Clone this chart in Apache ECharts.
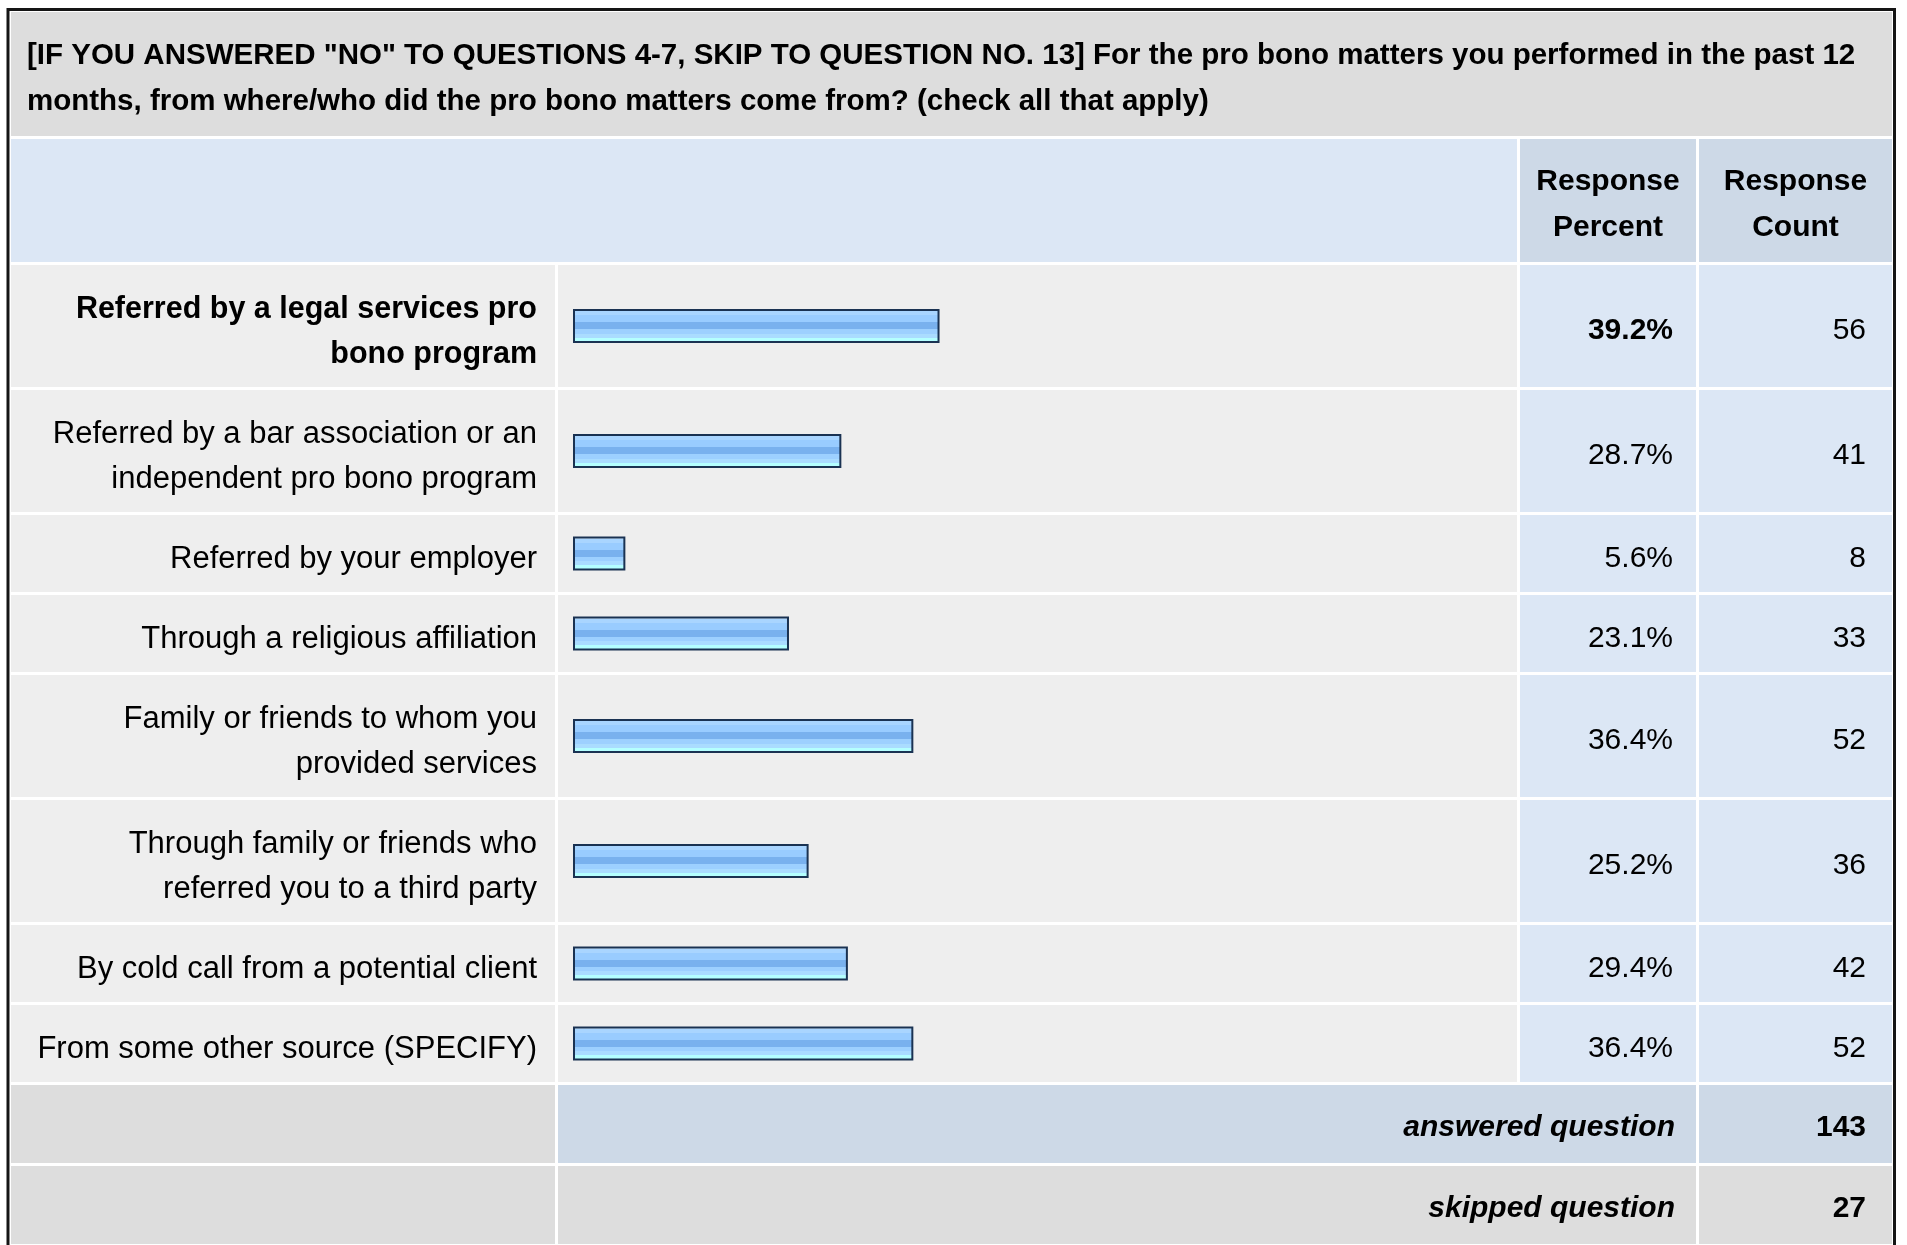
<!DOCTYPE html>
<html>
<head>
<meta charset="utf-8">
<script src="https://cdn.jsdelivr.net/npm/echarts@6/dist/echarts.min.js"></script>
<style>
html,body{margin:0;padding:0;background:#fff;}
#chart{width:1907px;height:1245px;}
</style>
</head>
<body>
<div id="chart"></div>
<script>
// ---------- data ----------
const questionTitle = '[IF YOU ANSWERED "NO" TO QUESTIONS 4-7, SKIP TO QUESTION NO. 13] For the pro bono matters you performed in the past 12 months, from where/who did the pro bono matters come from? (check all that apply)';
const categories = [
  'Referred by a legal services pro bono program',
  'Referred by a bar association or an independent pro bono program',
  'Referred by your employer',
  'Through a religious affiliation',
  'Family or friends to whom you provided services',
  'Through family or friends who referred you to a third party',
  'By cold call from a potential client',
  'From some other source (SPECIFY)'
];
const percents = [39.2, 28.7, 5.6, 23.1, 36.4, 25.2, 29.4, 36.4];
const counts = [56, 41, 8, 33, 52, 36, 42, 52];
const headerLabels = ['Response\nPercent', 'Response\nCount'];
const summaryLabels = ['answered question', 'skipped question'];
const summaryValues = [143, 27];

// ---------- layout (styling only) ----------
const FONT = '"Liberation Sans", Arial, Helvetica, sans-serif';
const rowTops =    [265, 390, 515, 595, 675, 800, 925, 1005];
const rowHeights = [122, 122,  77,  77, 122, 122,  77,   77];
const summaryTops = [1085, 1166];
const summaryHeight = 78;
const colLabel = [11, 555], colBar = [558, 1517], colPct = [1520, 1696], colCnt = [1699, 1892];
const barLeft = 573, barWidth100 = 935, barThick = 34;
const C = {
  title: '#dddddd', headBlank: '#dce7f5', headCol: '#cdd9e7',
  rowGray: '#eeeeee', rowBlue: '#dce7f5', sumGray: '#dddddd', sumBlue: '#cdd9e7'
};
const maxIdx = percents.indexOf(Math.max.apply(null, percents));

// word wrap measured with canvas
const measureCtx = document.createElement('canvas').getContext('2d');
function wrap(str, maxW, font) {
  measureCtx.font = font;
  const words = str.split(' ');
  const lines = [];
  let cur = '';
  words.forEach(function (w) {
    const test = cur ? cur + ' ' + w : w;
    if (cur && measureCtx.measureText(test).width > maxW) { lines.push(cur); cur = w; }
    else cur = test;
  });
  if (cur) lines.push(cur);
  return lines.join('\n');
}

const graphics = [];
function rect(x1, x2, y, h, fill) {
  graphics.push({type: 'rect', z: -10, silent: true,
    shape: {x: x1, y: y, width: x2 - x1, height: h}, style: {fill: fill}});
}
function text(x, y, str, opts) {
  graphics.push({type: 'text', z: 10, silent: true, x: x, y: y,
    style: Object.assign({text: str, font: '30px ' + FONT, fill: '#000',
      textAlign: 'right', textVerticalAlign: 'middle'}, opts || {})});
}
// outer frame
graphics.push({type: 'rect', z: -20, silent: true,
  shape: {x: 8, y: 9.5, width: 1886.5, height: 1260},
  style: {fill: '#fff', stroke: '#151515', lineWidth: 3}});
// title
rect(11, 1892, 12, 124, C.title);
const titleFont = 'bold 29.5px ' + FONT;
graphics.push({type: 'text', z: 10, silent: true, x: 27, y: 33,
  style: {text: wrap(questionTitle, 1862, titleFont), font: titleFont, fill: '#000',
    lineHeight: 46, textAlign: 'left', textVerticalAlign: 'top'}});
// header
rect(11, 1517, 139, 123, C.headBlank);
rect(colPct[0], colPct[1], 139, 123, C.headCol);
rect(colCnt[0], colCnt[1], 139, 123, C.headCol);
[colPct, colCnt].forEach(function (col, k) {
  graphics.push({type: 'text', z: 10, silent: true, x: (col[0] + col[1]) / 2, y: 159,
    style: {text: headerLabels[k], font: 'bold 30px ' + FONT, fill: '#000',
      lineHeight: 46, textAlign: 'center', textVerticalAlign: 'top'}});
});
// data rows
categories.forEach(function (c, i) {
  const t = rowTops[i], h = rowHeights[i], cy = t + h / 2;
  rect(colLabel[0], colLabel[1], t, h, C.rowGray);
  rect(colBar[0], colBar[1], t, h, C.rowGray);
  rect(colPct[0], colPct[1], t, h, C.rowBlue);
  rect(colCnt[0], colCnt[1], t, h, C.rowBlue);
  text(1673, cy + 5, percents[i].toFixed(1) + '%', {font: (i === maxIdx ? 'bold ' : '') + '30px ' + FONT});
  text(1866, cy + 5, String(counts[i]));
});
// summary rows
summaryLabels.forEach(function (lab, k) {
  const t = summaryTops[k], cy = t + summaryHeight / 2;
  rect(colLabel[0], colLabel[1], t, summaryHeight, C.sumGray);
  rect(colBar[0], colPct[1], t, summaryHeight, k === 0 ? C.sumBlue : C.sumGray);
  rect(colCnt[0], colCnt[1], t, summaryHeight, k === 0 ? C.sumBlue : C.sumGray);
  text(1675, cy + 4, lab, {font: 'italic bold 30px ' + FONT});
  text(1866, cy + 4, String(summaryValues[k]), {font: 'bold 30px ' + FONT});
});

// ---------- one grid per row ----------
const barFill = new echarts.graphic.LinearGradient(0, 0, 0, 1, [
  {offset: 0, color: '#cae6ff'}, {offset: 0.065, color: '#cae6ff'},
  {offset: 0.065, color: '#a9d5ff'}, {offset: 0.19, color: '#a9d5ff'},
  {offset: 0.19, color: '#99ccff'}, {offset: 0.39, color: '#99ccff'},
  {offset: 0.39, color: '#79b1ee'}, {offset: 0.6, color: '#79b1ee'},
  {offset: 0.6, color: '#9dd0ff'}, {offset: 0.73, color: '#9dd0ff'},
  {offset: 0.73, color: '#aadcff'}, {offset: 0.84, color: '#aadcff'},
  {offset: 0.84, color: '#b4ffff'}, {offset: 1, color: '#b4ffff'}
]);
const grids = [], xAxes = [], yAxes = [], series = [];
categories.forEach(function (c, i) {
  const cy = rowTops[i] + rowHeights[i] / 2;
  const isMax = i === maxIdx;
  const fs = isMax ? 30.5 : 31;
  const labelFont = (isMax ? 'bold ' : '') + fs + 'px ' + FONT;
  grids.push({left: barLeft, width: barWidth100, top: cy - barThick / 2, height: barThick, containLabel: false});
  xAxes.push({type: 'value', gridIndex: i, min: 0, max: 100, show: false});
  yAxes.push({type: 'category', gridIndex: i, data: [c],
    axisLine: {show: false}, axisTick: {show: false}, splitLine: {show: false},
    axisLabel: {margin: 36, fontFamily: FONT, fontSize: fs, color: '#000',
      fontWeight: isMax ? 'bold' : 'normal', lineHeight: 45, align: 'right',
      rich: {p: {lineHeight: 12, fontSize: 2}},
      formatter: function (v) { return '{p| }\n' + wrap(v, 512, labelFont); }}});
  series.push({type: 'bar', xAxisIndex: i, yAxisIndex: i, data: [percents[i]],
    barWidth: barThick, animation: false, silent: true,
    itemStyle: {color: barFill, borderColor: '#1a3252', borderWidth: 2}});
});

const chart = echarts.init(document.getElementById('chart'), null, {renderer: 'canvas'});
chart.setOption({
  backgroundColor: '#fff',
  animation: false,
  grid: grids, xAxis: xAxes, yAxis: yAxes, series: series,
  graphic: {elements: graphics}
});
</script>
</body>
</html>
